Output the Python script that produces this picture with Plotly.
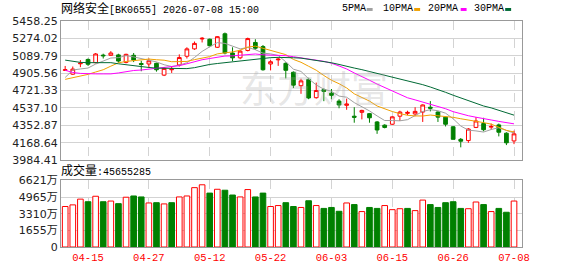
import plotly.graph_objects as go

# ---------------- data ----------------
dates = ["04-10", "04-13", "04-14", "04-15", "04-16", "04-17", "04-20", "04-21", "04-22", "04-23",
         "04-24", "04-27", "04-28", "04-29", "04-30", "05-06", "05-07", "05-08", "05-11", "05-12",
         "05-13", "05-14", "05-15", "05-18", "05-19", "05-20", "05-21", "05-22", "05-25", "05-26",
         "05-27", "05-28", "05-29", "06-01", "06-02", "06-03", "06-04", "06-05", "06-08", "06-09",
         "06-10", "06-11", "06-12", "06-15", "06-16", "06-17", "06-18", "06-22", "06-23", "06-24",
         "06-25", "06-26", "06-29", "06-30", "07-01", "07-02", "07-03", "07-06", "07-07", "07-08"]
label_dates = ["04-15", "04-27", "05-12", "05-22", "06-03", "06-15", "06-26", "07-08"]

opens = [4935, 4895, 5005, 5051, 5017, 5097, 5095, 5099, 5020, 5095,
         5008, 5003, 5010, 4885, 4942, 4993, 5085, 5163, 5268, 5265,
         5180, 5323, 5119, 5068, 5146, 5231, 5187, 5003, 5047, 5010,
         4915, 4773, 4840, 4646, 4732, 4694, 4610, 4565, 4450, 4491,
         4477, 4389, 4355, 4365, 4450, 4480, 4474, 4494, 4545, 4494,
         4440, 4338, 4205, 4192, 4331, 4372, 4334, 4358, 4270, 4188]
highs = [4982, 4976, 5044, 5061, 5119, 5112, 5139, 5111, 5112, 5119,
         5037, 5061, 5017, 4969, 4976, 5105, 5180, 5241, 5288, 5272,
         5298, 5336, 5180, 5153, 5282, 5265, 5204, 5044, 5071, 5020,
         4925, 4847, 4857, 4806, 4745, 4738, 4630, 4636, 4545, 4518,
         4484, 4399, 4365, 4450, 4508, 4508, 4545, 4575, 4610, 4501,
         4447, 4345, 4219, 4324, 4440, 4433, 4372, 4372, 4280, 4297]
lows = [4930, 4888, 4969, 4983, 5010, 5061, 5088, 5017, 5010, 5023,
        4926, 4959, 4922, 4875, 4908, 4976, 5061, 5153, 5231, 5190,
        5173, 5105, 5034, 5054, 5136, 5153, 4932, 4935, 4983, 4850,
        4748, 4687, 4630, 4636, 4609, 4630, 4534, 4518, 4381, 4416,
        4381, 4263, 4321, 4358, 4399, 4460, 4450, 4389, 4501, 4389,
        4341, 4205, 4120, 4168, 4324, 4290, 4307, 4236, 4144, 4154]
closes = [4942, 4949, 5012, 5000, 5109, 5090, 5119, 5034, 5105, 5044,
          4998, 5037, 4942, 4956, 4949, 5071, 5163, 5221, 5275, 5196,
          5292, 5119, 5068, 5139, 5272, 5170, 4942, 5027, 5054, 4936,
          4779, 4824, 4643, 4722, 4712, 4671, 4569, 4579, 4439, 4511,
          4433, 4304, 4331, 4443, 4494, 4490, 4501, 4569, 4535, 4440,
          4365, 4205, 4185, 4314, 4399, 4307, 4341, 4280, 4168, 4263]

ma5 = [4860, 4939, 4950, 4960, 5002, 5032, 5066, 5070, 5091, 5078,
       5060, 5044, 5025, 4995, 4976, 4991, 5016, 5072, 5136, 5185,
       5229, 5221, 5190, 5163, 5178, 5154, 5118, 5110, 5093, 5026,
       4948, 4924, 4847, 4781, 4736, 4714, 4663, 4651, 4594, 4554,
       4506, 4453, 4404, 4404, 4401, 4413, 4453, 4500, 4519, 4508,
       4482, 4423, 4346, 4302, 4294, 4282, 4309, 4328, 4299, 4272]
ma10 = [4840, 4857, 4877, 4893, 4918, 4942, 4980, 5015, 5030, 5040,
        5046, 5055, 5048, 5043, 5027, 5026, 5030, 5049, 5066, 5081,
        5110, 5118, 5131, 5149, 5182, 5192, 5169, 5150, 5128, 5102,
        5051, 5021, 4979, 4937, 4881, 4831, 4794, 4749, 4687, 4645,
        4610, 4558, 4527, 4499, 4477, 4460, 4453, 4452, 4462, 4454,
        4448, 4438, 4423, 4410, 4401, 4382, 4366, 4337, 4300, 4283]
ma20 = [4936, 4913, 4903, 4898, 4898, 4898, 4898, 4908, 4924, 4934,
        4939, 4949, 4959, 4969, 4977, 4985, 5005, 5030, 5048, 5061,
        5078, 5087, 5089, 5096, 5105, 5109, 5100, 5099, 5097, 5091,
        5080, 5070, 5055, 5043, 5031, 5011, 4982, 4950, 4908, 4873,
        4831, 4790, 4753, 4718, 4679, 4645, 4623, 4600, 4575, 4550,
        4529, 4498, 4475, 4455, 4439, 4421, 4410, 4395, 4381, 4369]
ma30 = [5044, 5030, 5020, 5017, 5017, 5017, 5017, 5005, 4995, 4980,
        4971, 4966, 4959, 4956, 4953, 4951, 4954, 4964, 4982, 4998,
        5008, 5017, 5025, 5035, 5049, 5059, 5066, 5070, 5073, 5074,
        5069, 5065, 5053, 5043, 5030, 5016, 4998, 4983, 4960, 4943,
        4924, 4899, 4879, 4862, 4847, 4827, 4805, 4784, 4759, 4734,
        4703, 4672, 4643, 4615, 4586, 4558, 4538, 4513, 4483, 4461]

# volume in 万 (10k shares)
volumes = [4023, 4184, 4755, 4498, 5040, 4498, 4565, 4308, 4945, 5069,
           4974, 4375, 4403, 4280, 4403, 4974, 5069, 5896, 6181, 5354,
           5735, 5639, 5164, 4974, 5706, 4974, 5354, 4023, 4118, 4403,
           4023, 3928, 4593, 4118, 3833, 3928, 3547, 4375, 4213, 3519,
           3928, 3833, 4118, 3709, 3804, 3833, 3614, 4660, 4213, 3928,
           4403, 4498, 3833, 3804, 4470, 4213, 3519, 3833, 3452, 4565.5285]
vol_up = [1, 1, 1, 0, 1, 0, 1, 0, 1, 0,
          0, 1, 0, 1, 0, 1, 1, 1, 1, 0,
          1, 0, 0, 1, 1, 0, 0, 1, 1, 0,
          0, 1, 0, 1, 0, 0, 0, 1, 0, 1,
          0, 0, 1, 1, 1, 0, 1, 1, 0, 0,
          0, 0, 0, 1, 1, 0, 1, 0, 0, 1]

price_ticks = [3984.41, 4168.64, 4352.87, 4537.10, 4721.33, 4905.56, 5089.79, 5274.02, 5458.25]
vol_ticks = [0, 1655, 3310, 4965, 6621]
vol_ticktext = ["0", "1655万", "3310万", "4965万", "6621万"]

title_name = "网络安全"
title_rest = "[BK0655] 2026-07-08 15:00"
volume_name = "成交量"
volume_rest = ":45655285"
watermark = "东方财富"
ma_names = ["5PMA", "10PMA", "20PMA", "30PMA"]

# ---------------- style ----------------
RED = "#ff0000"
GREEN = "#008000"
MA_COLORS = ["#a0a0a0", "#f0a000", "#ff00ff", "#006a35"]
FRAME = "#999999"
GRID = "#d3d3d3"
MONO = "Liberation Mono, Noto Sans CJK SC, monospace"
AXF = "DejaVu Sans, Noto Sans CJK SC, sans-serif"

fig = go.Figure()

fig.add_trace(go.Candlestick(
    x=dates, open=opens, high=highs, low=lows, close=closes,
    increasing=dict(line=dict(color=RED, width=1), fillcolor="#ffffff"),
    decreasing=dict(line=dict(color=GREEN, width=1), fillcolor=GREEN),
    whiskerwidth=0, xaxis="x", yaxis="y", showlegend=False, hoverinfo="skip"))

for name, vals, col in zip(ma_names, [ma5, ma10, ma20, ma30], MA_COLORS):
    fig.add_trace(go.Scatter(x=dates, y=vals, mode="lines", name=name,
                             line=dict(color=col, width=1), xaxis="x", yaxis="y",
                             showlegend=False, hoverinfo="skip"))

fig.add_trace(go.Bar(
    x=dates, y=volumes, xaxis="x2", yaxis="y2", width=0.74,
    marker=dict(color=["#ffffff" if u else GREEN for u in vol_up],
                line=dict(color=[RED if u else GREEN for u in vol_up], width=1)),
    showlegend=False, hoverinfo="skip"))

common_x = dict(type="category", categoryorder="array", categoryarray=dates,
                range=[-0.55, 60.05], tickvals=label_dates, showgrid=True,
                gridcolor=GRID, griddash="dash", gridwidth=1, showline=True,
                linecolor=FRAME, linewidth=1, mirror=True, ticks="", zeroline=False,
                fixedrange=True)

fig.update_layout(
    width=578, height=276,
    margin=dict(l=56, r=56, t=21, b=20),
    paper_bgcolor="#ffffff", plot_bgcolor="#ffffff",
    xaxis=dict(**common_x, anchor="y", showticklabels=False,
               rangeslider=dict(visible=False)),
    xaxis2=dict(**common_x, anchor="y2", matches="x", showticklabels=True,
                tickfont=dict(family=MONO, size=10.5, color=RED)),
    yaxis=dict(domain=[0.3843, 1], range=[price_ticks[0], price_ticks[-1]],
               tickvals=price_ticks, ticktext=[f"{v:.2f}" for v in price_ticks],
               showgrid=True, gridcolor=GRID, gridwidth=1, showline=True,
               linecolor=FRAME, mirror=True, ticks="", zeroline=False,
               tickfont=dict(family=AXF, size=11, color="#222222")),
    yaxis2=dict(domain=[0, 0.2949], range=[vol_ticks[0], vol_ticks[-1]],
                tickvals=vol_ticks, ticktext=vol_ticktext,
                showgrid=True, gridcolor=GRID, gridwidth=1, showline=True,
                linecolor=FRAME, mirror=True, ticks="", zeroline=False,
                tickfont=dict(family=AXF, size=11, color="#222222")),
    bargap=0.26,
)

annotations = [
    dict(text=f"<span style='font-size:12px'>{title_name}</span>{title_rest}",
         x=-0.004, y=1.0532, xref="paper", yref="paper",
         xanchor="left", yanchor="middle", showarrow=False,
         font=dict(family=MONO, size=10, color="#000000")),
    dict(text=f"<span style='font-size:12px'>{volume_name}</span>{volume_rest}",
         x=-0.004, y=0.3349, xref="paper", yref="paper",
         xanchor="left", yanchor="middle", showarrow=False,
         font=dict(family=MONO, size=10, color="#000000")),
    dict(text=watermark, x=0.548, y=0.71, xref="paper", yref="paper",
         xanchor="center", yanchor="middle", showarrow=False,
         font=dict(family="Noto Sans CJK SC", size=37, color="rgba(170,170,170,0.3)")),
]
legend_text_x = [0.6058, 0.6938, 0.7918, 0.8921]
legend_sq_x = [(0.6631, 0.6760), (0.7661, 0.7790), (0.8670, 0.8798), (0.9635, 0.9764)]
shapes = []
for name, tx, (s0, s1), col in zip(ma_names, legend_text_x, legend_sq_x, MA_COLORS):
    annotations.append(dict(text=name, x=tx, y=1.0532, xref="paper", yref="paper",
                            xanchor="left", yanchor="middle", showarrow=False,
                            font=dict(family=MONO, size=10, color="#000000")))
    shapes.append(dict(type="rect", xref="paper", yref="paper", x0=s0, x1=s1,
                       y0=1.0445, y1=1.0575, fillcolor=col, line=dict(width=0)))

fig.update_layout(annotations=annotations, shapes=shapes)

fig.write_html("out.html")
